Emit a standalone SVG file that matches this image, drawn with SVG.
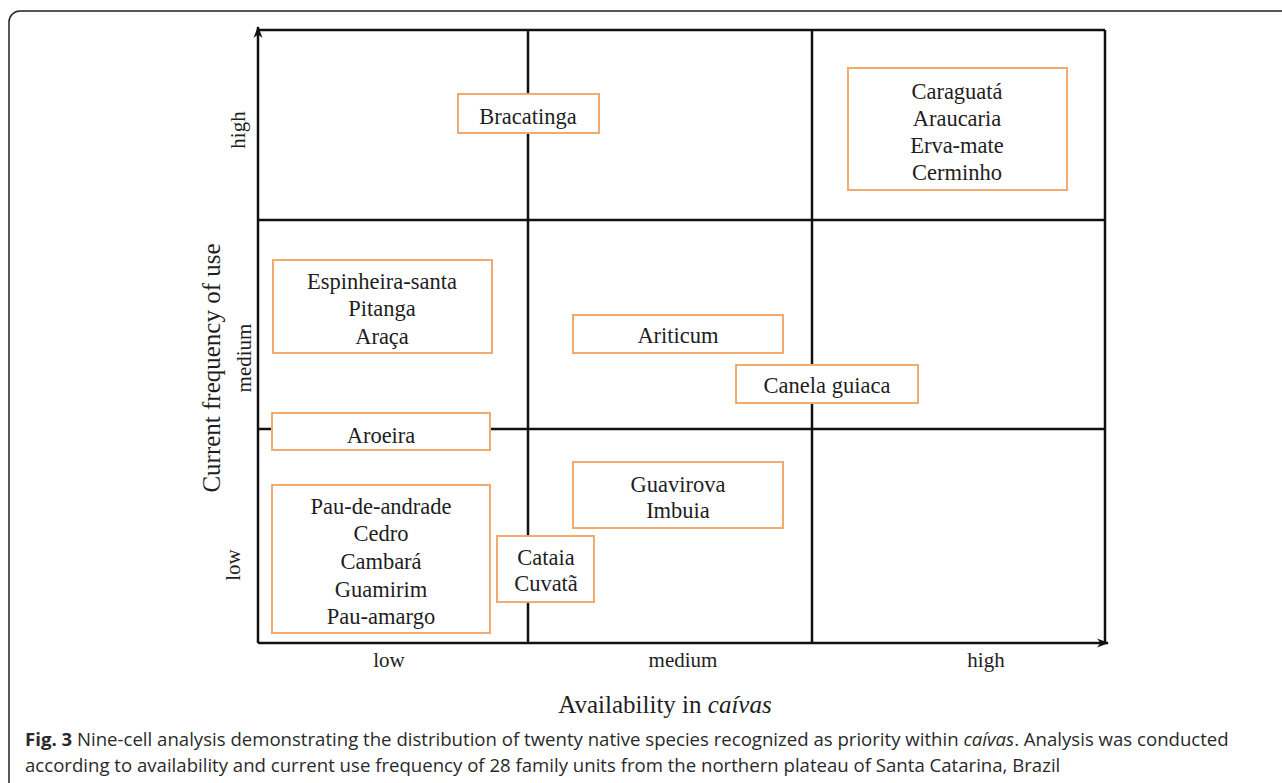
<svg xmlns="http://www.w3.org/2000/svg" width="1282" height="783" viewBox="0 0 1282 783">
<style>
.frame{fill:none;stroke:#222;stroke-width:1.5}
.grid{stroke:#111;stroke-width:2.5;fill:none}
.box{fill:#fff;stroke:#F2AA6E;stroke-width:2}
.t{font-family:"Liberation Serif","Times New Roman",serif;font-size:22.5px;fill:#1e1e1e;text-anchor:middle}
.ax{font-family:"Liberation Serif","Times New Roman",serif;font-size:21px;fill:#1e1e1e;text-anchor:middle}
.title{font-family:"Liberation Serif","Times New Roman",serif;font-size:25px;fill:#1e1e1e;text-anchor:middle}
.cap{font-family:"Open Sans","Noto Sans",sans-serif;font-size:18.6px;fill:#2a2a2a}
</style>
<defs>
<marker id="arr" viewBox="0 0 12 10" refX="11" refY="5" markerWidth="12" markerHeight="10" markerUnits="userSpaceOnUse" orient="auto">
<path d="M0,0.5 L12,5 L0,9.5 L3.5,5 Z" fill="#111"/>
</marker>
</defs>
<rect class="frame" x="9" y="11" width="1300" height="790" rx="11"/>
<g id="connectors">
<line class="grid" x1="258" y1="643" x2="258" y2="27" marker-end="url(#arr)"/>
<line class="grid" x1="258" y1="643" x2="1108" y2="643" marker-end="url(#arr)"/>
<line class="grid" x1="258" y1="30" x2="1105" y2="30"/>
<line class="grid" x1="1105" y1="30" x2="1105" y2="643"/>
<line class="grid" x1="259" y1="220" x2="1105" y2="220"/>
<line class="grid" x1="259" y1="429" x2="1105" y2="429"/>
<line class="grid" x1="528" y1="30" x2="528" y2="643"/>
<line class="grid" x1="812" y1="30" x2="812" y2="643"/>
</g>
<g id="axis-labels">
<text class="ax" transform="translate(245,130) rotate(-90)">high</text>
<text class="ax" transform="translate(251,358) rotate(-90)">medium</text>
<text class="ax" transform="translate(240,565) rotate(-90)">low</text>
<text class="title" font-size="26" transform="translate(220,368) rotate(-90)">Current frequency of use</text>
<text class="ax" x="389" y="667">low</text>
<text class="ax" x="683" y="667">medium</text>
<text class="ax" x="986" y="667">high</text>
<text class="title" x="665" y="713">Availability in <tspan font-style="italic">caívas</tspan></text>
</g>
<g id="node-bracatinga">
<rect class="box" x="458" y="94" width="141" height="39"/>
<text class="t" x="528" y="124">Bracatinga</text>
</g>
<g id="node-caraguata">
<rect class="box" x="848" y="68" width="219" height="122"/>
<text class="t" x="957" y="99">Caraguatá</text>
<text class="t" x="957" y="126">Araucaria</text>
<text class="t" x="957" y="153">Erva-mate</text>
<text class="t" x="957" y="180">Cerminho</text>
</g>
<g id="node-espinheira">
<rect class="box" x="273" y="260" width="219" height="93"/>
<text class="t" x="382" y="289">Espinheira-santa</text>
<text class="t" x="382" y="316">Pitanga</text>
<text class="t" x="382" y="344">Araça</text>
</g>
<g id="node-ariticum">
<rect class="box" x="573" y="315" width="210" height="38"/>
<text class="t" x="678" y="343">Ariticum</text>
</g>
<g id="node-canela">
<rect class="box" x="736" y="365" width="182" height="38"/>
<text class="t" x="827" y="393">Canela guiaca</text>
</g>
<g id="node-aroeira">
<rect class="box" x="272" y="413" width="218" height="37"/>
<text class="t" x="381" y="443">Aroeira</text>
</g>
<g id="node-guavirova">
<rect class="box" x="573" y="462" width="210" height="66"/>
<text class="t" x="678" y="492">Guavirova</text>
<text class="t" x="678" y="518">Imbuia</text>
</g>
<g id="node-paudeandrade">
<rect class="box" x="272" y="485" width="218" height="148"/>
<text class="t" x="381" y="514">Pau-de-andrade</text>
<text class="t" x="381" y="541">Cedro</text>
<text class="t" x="381" y="569">Cambará</text>
<text class="t" x="381" y="597">Guamirim</text>
<text class="t" x="381" y="624">Pau-amargo</text>
</g>
<g id="node-cataia">
<rect class="box" x="497" y="536" width="97" height="66"/>
<text class="t" x="546" y="565">Cataia</text>
<text class="t" x="546" y="591">Cuvatã</text>
</g>
<g id="caption">
<text class="cap" x="25" y="746"><tspan font-weight="bold">Fig. 3</tspan> Nine-cell analysis demonstrating the distribution of twenty native species recognized as priority within <tspan font-style="italic">caívas</tspan>. Analysis was conducted</text>
<text class="cap" x="25" y="772">according to availability and current use frequency of 28 family units from the northern plateau of Santa Catarina, Brazil</text>
</g>
</svg>
